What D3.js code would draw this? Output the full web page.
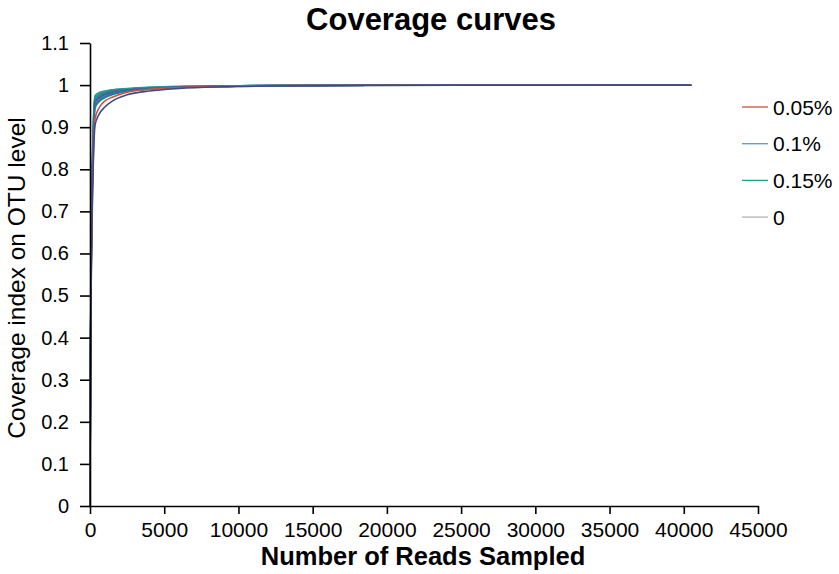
<!DOCTYPE html>
<html>
<head>
<meta charset="utf-8">
<script src="https://cdn.jsdelivr.net/npm/d3@7"></script>
<style>
  body { margin: 0; background: #fff; }
  svg text { font-family: Arial, "Liberation Sans", sans-serif; fill: #000; }
</style>
</head>
<body>
<svg id="chart" width="839" height="574"></svg>
<script>
// reads sampled (x positions shared by every curve)
const reads = [1, 30, 100, 200, 340, 600, 1000, 1500, 2500, 4000, 6000, 9000, 13000, 20000, 30000, 40500];

// coverage per sample
const sampleTeal1 = [0, 0.36, 0.68, 0.88, 0.975, 0.982, 0.986, 0.989, 0.992, 0.995, 0.997, 0.998, 0.999, 0.9995, 0.9998, 1];
const sampleTeal2 = [0, 0.35, 0.67, 0.87, 0.971, 0.979, 0.984, 0.988, 0.991, 0.994, 0.996, 0.998, 0.999, 0.9995, 0.9998, 1];
const sampleTeal3 = [0, 0.34, 0.66, 0.86, 0.967, 0.976, 0.982, 0.986, 0.990, 0.994, 0.996, 0.998, 0.999, 0.9995, 0.9998, 1];
const sampleTeal4 = [0, 0.32, 0.62, 0.83, 0.945, 0.960, 0.970, 0.977, 0.985, 0.990, 0.994, 0.997, 0.999, 0.9995, 0.9998, 1];
const sampleBlue1 = [0, 0.33, 0.64, 0.84, 0.955, 0.967, 0.975, 0.981, 0.987, 0.992, 0.995, 0.997, 0.999, 0.9995, 0.9998, 1];
const sampleBlue2 = [0, 0.34, 0.65, 0.85, 0.962, 0.972, 0.979, 0.984, 0.989, 0.993, 0.996, 0.998, 0.999, 0.9995, 0.9998, 1];
const sampleSteel1 = [0, 0.34, 0.65, 0.85, 0.963, 0.973, 0.980, 0.985, 0.989, 0.993, 0.996, 0.998, 0.999, 0.9995, 0.9998, 1];
const sampleSteel2 = [0, 0.33, 0.64, 0.84, 0.958, 0.969, 0.977, 0.983, 0.988, 0.992, 0.995, 0.997, 0.999, 0.9995, 0.9998, 1];
const sampleSteel3 = [0, 0.32, 0.63, 0.83, 0.950, 0.963, 0.972, 0.979, 0.986, 0.991, 0.995, 0.997, 0.999, 0.9995, 0.9998, 1];
const sampleRed = [0, 0.31, 0.60, 0.80, 0.920, 0.945, 0.962, 0.971, 0.983, 0.990, 0.994, 0.997, 0.999, 0.9995, 0.9998, 1];
const sampleNavy = [0, 0.30, 0.58, 0.78, 0.905, 0.930, 0.948, 0.962, 0.977, 0.986, 0.992, 0.996, 0.998, 0.9993, 0.9998, 1];

const samples = [
  { values: sampleTeal1, colour: '#1f9d8c' },
  { values: sampleTeal2, colour: '#22998f' },
  { values: sampleTeal3, colour: '#2a958f' },
  { values: sampleTeal4, colour: '#26968c' },
  { values: sampleBlue1, colour: '#3a9fcc' },
  { values: sampleBlue2, colour: '#3aa3d2' },
  { values: sampleSteel1, colour: '#3f6e9d' },
  { values: sampleSteel2, colour: '#3c6797' },
  { values: sampleSteel3, colour: '#3d6a99' },
  { values: sampleRed, colour: '#c8553d' },
  { values: sampleNavy, colour: '#3b4b88' },
];

const legendLabels = ['0.05%', '0.1%', '0.15%', '0'];
const legendColours = ['#c8553d', '#3fa7d6', '#1fa08c', '#b4b4b4'];

const xTicks = [0, 5000, 10000, 15000, 20000, 25000, 30000, 35000, 40000, 45000];
const yTicks = [0, 0.1, 0.2, 0.3, 0.4, 0.5, 0.6, 0.7, 0.8, 0.9, 1, 1.1];

const svg = d3.select('#chart');

const x = d3.scaleLinear().domain([0, 45000]).range([90, 758]);
const y = d3.scaleLinear().domain([0, 1.1]).range([506, 43]);

// curves
const line = d3.line()
  .x((d, i) => x(reads[i]))
  .y(d => y(d))
  .curve(d3.curveMonotoneX);

svg.append('g')
  .attr('class', 'curves')
  .selectAll('path')
  .data(samples)
  .enter()
  .append('path')
  .attr('d', d => line(d.values))
  .attr('fill', 'none')
  .attr('stroke', d => d.colour)
  .attr('stroke-width', 1.6);

// axes
const xAxis = svg.append('g')
  .attr('transform', `translate(0,${y(0)})`)
  .call(d3.axisBottom(x).tickValues(xTicks).tickFormat(d3.format('d'))
    .tickSize(8).tickPadding(8).tickSizeOuter(0));

const yAxis = svg.append('g')
  .attr('transform', `translate(${x(0)},0)`)
  .call(d3.axisLeft(y).tickValues(yTicks).tickFormat(d => String(+d.toFixed(1)))
    .tickSize(10).tickPadding(11).tickSizeOuter(0));

[xAxis, yAxis].forEach(g => {
  g.select('.domain').attr('stroke', '#000').attr('stroke-width', 1.6);
  g.selectAll('.tick line').attr('stroke', '#000').attr('stroke-width', 1.6);
  g.selectAll('.tick text').attr('fill', '#000')
    .style('font-family', 'Arial, "Liberation Sans", sans-serif');
});
xAxis.selectAll('.tick text').style('font-size', '21px');
yAxis.selectAll('.tick text').style('font-size', '20px');

// titles
svg.append('text')
  .attr('x', 431)
  .attr('y', 30)
  .attr('text-anchor', 'middle')
  .style('font-size', '31px')
  .style('font-weight', 'bold')
  .text('Coverage curves');

svg.append('text')
  .attr('x', 423)
  .attr('y', 565)
  .attr('text-anchor', 'middle')
  .style('font-size', '25.5px')
  .style('font-weight', 'bold')
  .text('Number of Reads Sampled');

svg.append('text')
  .attr('transform', 'translate(25,278) rotate(-90)')
  .attr('text-anchor', 'middle')
  .style('font-size', '24.5px')
  .text('Coverage index on OTU level');

// legend
const legend = svg.append('g')
  .attr('class', 'legend')
  .selectAll('g')
  .data(legendLabels)
  .enter()
  .append('g')
  .attr('transform', (d, i) => `translate(742,${107 + i * 36.7})`);

legend.append('line')
  .attr('x1', 0)
  .attr('x2', 26)
  .attr('y1', 0)
  .attr('y2', 0)
  .attr('stroke', (d, i) => legendColours[i])
  .attr('stroke-width', 1.3);

legend.append('text')
  .attr('x', 31)
  .attr('y', 7.5)
  .style('font-size', '21px')
  .text(d => d);
</script>
</body>
</html>
